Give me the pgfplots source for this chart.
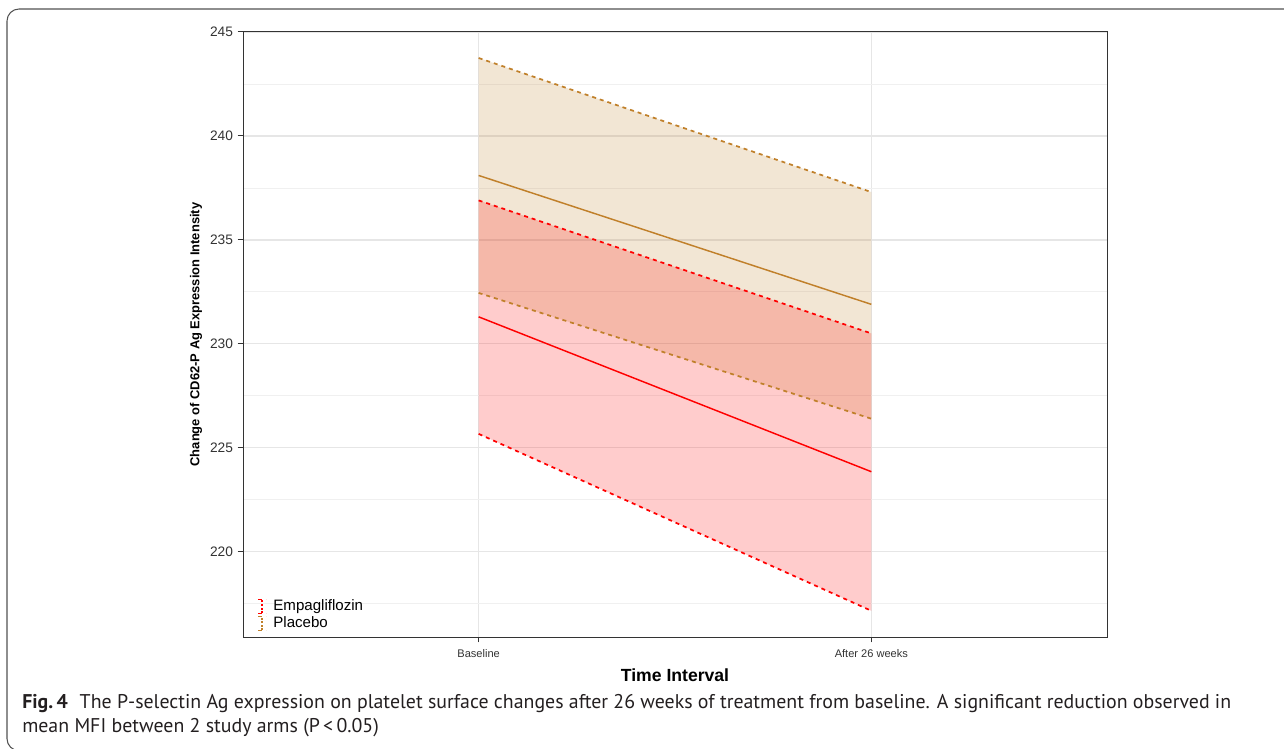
\documentclass[border=0pt]{standalone}
\usepackage{fontspec}
\setmainfont{Liberation Sans}
\newfontfamily\capfont{PT Sans}
\usepackage{pgfplots}
\pgfplotsset{compat=1.18}
\definecolor{empa}{HTML}{FF0000}
\definecolor{plac}{HTML}{C0802A}
\definecolor{gridc}{HTML}{E6E6E6}
\definecolor{framec}{HTML}{333333}
\definecolor{captxt}{HTML}{231F20}

\begin{document}
\begin{tikzpicture}
\useasboundingbox (0,0) rectangle (963pt,-561.75pt);
\begin{scope}
\clip (0,0) rectangle (963pt,-561.75pt);
\draw[framec!85, line width=0.8pt, rounded corners=9pt] (975pt,-6.75pt) -- (5.25pt,-6.75pt) -- (5.25pt,-563pt) -- (975pt,-563pt);
\end{scope}
\begin{axis}[
  at={(182.25pt,-477.75pt)}, anchor=south west,
  scale only axis, width=648pt, height=453.75pt,
  xmin=0.4, xmax=2.6, ymin=215.9, ymax=245,
  xtick={1,2}, xticklabels={Baseline, After 26 weeks},
  ytick={220,225,...,245},
  minor ytick={217.5,222.5,...,242.5},
  grid=both,
  major grid style={gridc, line width=0.9pt},
  minor grid style={gridc!60, line width=0.6pt},
  axis line style={framec, line width=0.75pt},
  tick align=outside, tick pos=left,
  major tick length=4pt, minor tick length=0pt,
  tick style={framec, line width=0.75pt},
  xticklabel style={font=\fontsize{8.3}{10}\selectfont, text=black!80, yshift=-2pt},
  yticklabel style={font=\fontsize{10.3}{12}\selectfont, text=black!80},
  /pgf/number format/assume math mode=true,
  xlabel={Time Interval},
  ylabel={Change of CD62-P Ag Expression Intensity},
  xlabel style={font=\fontsize{13.2}{15}\selectfont\bfseries, yshift=-1.5pt},
  ylabel style={font=\fontsize{9.7}{11}\selectfont\bfseries, yshift=-1pt},
  legend style={at={(0.015,0.006)}, anchor=south west, draw=none, fill=none,
    font=\fontsize{11.3}{11.3}\selectfont, row sep=0.4pt, inner sep=1pt,
    nodes={inner xsep=5pt, inner ysep=0pt, text height=8.2pt, text depth=2.4pt}},
  legend cell align=left,
]
% ribbons
\addplot[fill=plac, fill opacity=0.2, draw=none, forget plot] coordinates {(1,243.75) (2,237.3) (2,226.4) (1,232.45)} -- cycle;
\addplot[fill=empa, fill opacity=0.2, draw=none, forget plot] coordinates {(1,236.9) (2,230.5) (2,217.16) (1,225.67)} -- cycle;
% bounds
\addplot[empa, line width=1.3pt, dash pattern=on 3pt off 3pt,
  legend image code/.code={\draw[empa, line width=2pt, dash pattern=on 1.5pt off 1.2pt] (0.3em,-0.5em) -- (0.3em,0.55em); \draw[empa, line width=0.9pt] (0em,-0.5em)--(0.6em,-0.5em) (0em,0.55em)--(0.6em,0.55em);}]
  coordinates {(1,236.9) (2,230.5)};
\addlegendentry{Empagliflozin}
\addplot[plac, line width=1.3pt, dash pattern=on 3pt off 3pt,
  legend image code/.code={\draw[plac, line width=2pt, dash pattern=on 1.5pt off 1.2pt] (0.3em,-0.5em) -- (0.3em,0.55em); \draw[plac, line width=0.9pt] (0em,-0.5em)--(0.6em,-0.5em) (0em,0.55em)--(0.6em,0.55em);}]
  coordinates {(1,243.75) (2,237.3)};
\addlegendentry{Placebo}
\addplot[empa, line width=1.3pt, dash pattern=on 3pt off 3pt, forget plot] coordinates {(1,225.67) (2,217.16)};
\addplot[plac, line width=1.3pt, dash pattern=on 3pt off 3pt, forget plot] coordinates {(1,232.45) (2,226.4)};
% means
\addplot[empa, line width=1.1pt, forget plot] coordinates {(1,231.3) (2,223.85)};
\addplot[plac, line width=1.1pt, forget plot] coordinates {(1,238.1) (2,231.9)};
\end{axis}
\node[anchor=base west, inner sep=0pt, text=captxt, font=\capfont\fontsize{14.9}{17}\selectfont] at (16.5pt,-531pt)
  {\textbf{Fig.\,4}\hspace{0.6em}The P-selectin Ag expression on platelet surface changes after 26 weeks of treatment from baseline. A significant reduction observed in};
\node[anchor=base west, inner sep=0pt, text=captxt, font=\capfont\fontsize{14.9}{17}\selectfont] at (16.5pt,-549pt)
  {mean MFI between 2 study arms (P\,<\,0.05)};
\end{tikzpicture}
\end{document}
